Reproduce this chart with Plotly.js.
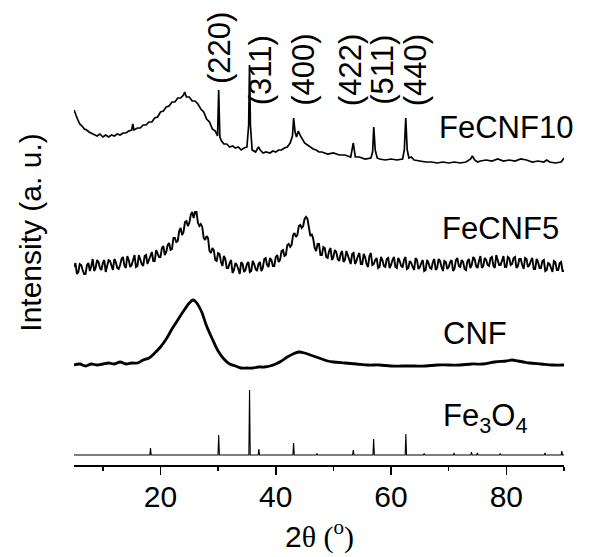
<!DOCTYPE html>
<html>
<head>
<meta charset="utf-8">
<script src="https://cdn.plot.ly/plotly-3.0.1.min.js"></script>
<style>html,body{margin:0;padding:0;background:#fff;}#chart{width:590px;height:557px;}</style>
</head>
<body>
<div id="chart"></div>
<script>
// ---- FeCNF10 (offset trace, top) ----
const fecnf10X = [5.0,5.3,5.6,6.0,6.4,6.8,7.2,7.6,8.0,8.5,9.0,9.5,10.0,10.5,11.0,11.5,12.0,12.5,13.0,13.5,14.0,14.5,15.0,15.2,15.4,16.0,16.5,17.0,17.5,18.0,18.5,19.0,19.5,20.0,20.5,21.0,21.5,22.0,22.5,23.0,23.5,24.0,24.2,24.5,25.0,25.5,26.0,26.5,27.0,27.5,28.0,28.5,29.0,29.5,29.9,30.1,30.3,30.6,31.0,31.5,32.0,32.5,33.0,33.5,34.0,34.5,35.0,35.3,35.45,35.6,35.9,36.5,37.0,37.3,37.8,38.3,39.0,39.5,40.0,40.5,41.0,41.5,42.0,42.5,42.9,43.1,43.35,43.6,43.9,44.3,44.7,45.0,45.5,46.0,46.5,47.0,47.5,48.0,49.0,50.0,51.0,52.0,53.0,53.45,53.8,54.5,55.5,56.5,56.8,57.0,57.25,57.6,58.0,59.0,60.0,61.0,62.0,62.3,62.55,62.8,63.1,63.5,64.0,65.0,66.0,67.0,68.0,69.0,70.0,71.0,72.0,73.0,73.8,74.1,74.5,75.0,75.5,76.5,77.5,78.5,79.5,80.5,81.5,82.5,83.5,84.5,85.5,86.5,87.0,87.5,88.5,89.5,90.0];
const fecnf10Y = [355,350,346,341,339,336,335,333,332,330,329,331,328,330,328,330,329,331,330,332,332,334,335,341,335,337,337,340,340,343,343,347,348,353,354,358,359,363,363,367,367,370,373,368,368,364,364,361,356,353,346,343,336,334,329,375,328,324,321,321,318,319,317,318,315,317,318,340,400,340,315,313,318,315,312,313,312,314,313,315,315,317,318,322,329,347,333,328,334,329,325,322,320,318,316,315,313,313,311,312,310,310,308,322,308,308,306,307,313,338,315,307,306,305,306,305,306,315,347,315,307,308,305,304,303,303,302,303,302,303,302,303,306,309,305,303,304,305,304,306,304,305,304,306,305,303,304,303,305,303,302,303,307];

// ---- FeCNF5 (scan points, two interleaved sets) ----
const fecnf5Xa = [5.0,5.5,6.0,6.5,7.0,7.5,8.0,8.5,9.0,9.5,10.0,10.5,11.0,11.5,12.0,12.5,13.0,13.5,14.0,14.5,15.0,15.5,16.0,16.5,17.0,17.5,18.0,18.5,19.0,19.5,20.0,20.5,21.0,21.5,22.0,22.5,23.0,23.5,24.0,24.5,25.0,25.5,26.0,26.5,27.0,27.5,28.0,28.5,29.0,29.5,30.0,30.5,31.0,31.5,32.0,32.5,33.0,33.5,34.0,34.5,35.0,35.5,36.0,36.5,37.0,37.5,38.0,38.5,39.0,39.5,40.0,40.5,41.0,41.5,42.0,42.5,43.0,43.5,44.0,44.5,45.0,45.5,46.0,46.5,47.0,47.5,48.0,48.5,49.0,49.5,50.0,50.5,51.0,51.5,52.0,52.5,53.0,53.5,54.0,54.5,55.0,55.5,56.0,56.5,57.0,57.5,58.0,58.5,59.0,59.5,60.0,60.5,61.0,61.5,62.0,62.5,63.0,63.5,64.0,64.5,65.0,65.5,66.0,66.5,67.0,67.5,68.0,68.5,69.0,69.5,70.0,70.5,71.0,71.5,72.0,72.5,73.0,73.5,74.0,74.5,75.0,75.5,76.0,76.5,77.0,77.5,78.0,78.5,79.0,79.5,80.0,80.5,81.0,81.5,82.0,82.5,83.0,83.5,84.0,84.5,85.0,85.5,86.0,86.5,87.0,87.5,88.0,88.5,89.0,89.5,90.0];
const fecnf5Ya = [198,191,201,195,191,202,199,194,205,197,202,193,205,200,206,197,200,208,197,205,200,210,199,205,199,210,205,213,204,212,208,219,213,222,216,227,224,237,233,244,242,253,253,242,241,227,229,214,217,205,212,203,209,197,202,192,202,196,203,193,201,193,204,196,201,194,206,200,207,199,208,203,214,209,220,218,230,228,239,237,246,246,229,226,214,221,210,217,207,217,208,213,204,214,205,209,201,212,204,212,201,208,198,212,201,207,198,205,198,207,200,208,197,204,198,208,197,202,195,205,198,205,195,202,196,206,197,204,194,203,198,205,196,207,198,203,195,206,200,206,197,209,199,205,199,208,197,205,200,209,198,207,201,208,199,206,196,206,200,207,196,203,197,205,195,201,193,203,195,203,194];
const fecnf5Xb = [5.25,5.75,6.25,6.75,7.25,7.75,8.25,8.75,9.25,9.75,10.25,10.75,11.25,11.75,12.25,12.75,13.25,13.75,14.25,14.75,15.25,15.75,16.25,16.75,17.25,17.75,18.25,18.75,19.25,19.75,20.25,20.75,21.25,21.75,22.25,22.75,23.25,23.75,24.25,24.75,25.25,25.75,26.25,26.75,27.25,27.75,28.25,28.75,29.25,29.75,30.25,30.75,31.25,31.75,32.25,32.75,33.25,33.75,34.25,34.75,35.25,35.75,36.25,36.75,37.25,37.75,38.25,38.75,39.25,39.75,40.25,40.75,41.25,41.75,42.25,42.75,43.25,43.75,44.25,44.75,45.25,45.75,46.25,46.75,47.25,47.75,48.25,48.75,49.25,49.75,50.25,50.75,51.25,51.75,52.25,52.75,53.25,53.75,54.25,54.75,55.25,55.75,56.25,56.75,57.25,57.75,58.25,58.75,59.25,59.75,60.25,60.75,61.25,61.75,62.25,62.75,63.25,63.75,64.25,64.75,65.25,65.75,66.25,66.75,67.25,67.75,68.25,68.75,69.25,69.75,70.25,70.75,71.25,71.75,72.25,72.75,73.25,73.75,74.25,74.75,75.25,75.75,76.25,76.75,77.25,77.75,78.25,78.75,79.25,79.75,80.25,80.75,81.25,81.75,82.25,82.75,83.25,83.75,84.25,84.75,85.25,85.75,86.25,86.75,87.25,87.75,88.25,88.75,89.25,89.75];
const fecnf5Yb = [202,193,200,191,200,194,206,197,203,195,205,198,204,195,203,196,206,199,209,198,205,198,210,201,209,201,210,204,215,208,217,210,220,215,227,223,234,230,243,239,250,247,253,239,238,225,227,212,215,204,211,199,206,197,205,195,200,191,201,195,203,194,201,194,203,197,207,198,205,199,210,205,215,210,221,220,232,230,240,239,248,235,231,217,221,210,218,208,214,205,215,206,211,203,214,205,211,201,209,201,211,201,209,200,205,197,208,199,206,197,205,198,207,199,205,196,204,198,207,196,202,194,205,197,203,195,206,198,204,196,203,194,205,199,205,196,204,197,208,199,204,197,207,200,207,199,210,200,206,198,208,200,207,197,206,200,207,198,204,196,206,197,204,194,202,197,204,195,202,194];

// ---- CNF ----
const cnfX = [5,6,7,8,9,10,11,12,13,14,15,16,17,18,19,20,21,22,23,24,25,25.6,26,27,28,29,30,31,32,33,34,35,36,37,38,39,40,41,42,43,44,45,46,47,48,49,50,52,54,56,58,60,62,64,66,68,70,72,74,76,78,80,81,82,83,84,86,88,90];
const cnfY = [100,101,99,101,100,101,102,101,103,101,102,102,105,107,112,118,126,136,145,154,162,165,164,155,139,126,114,106,101,99,97,97,97,98,98,99,101,104,108,111,113,112,110,108,106,104,103,102,101,100,100,99,99,99,99,100,100,100,101,101,103,104,105,104,103,102,101,100,100];

// ---- Fe3O4 reference pattern (stick lines) ----
const fe3o4Base = 10;
const fe3o4Pos = [18.27,30.10,35.45,37.07,43.09,47.14,53.45,56.98,62.57,65.74,70.92,73.95,74.96,78.93,86.70,89.62];
const fe3o4Int = [7,20,65,6,12,1.5,5,16,21,1.5,2,3,2,1.5,2,4];

// ---- labels ----
const hklLabels = ['(220)','(311)','(400)','(422)','(511)','(440)'];
const hklX = [30.15,37.3,44.7,52.9,58.4,64.2];
const hklY = [417,395,395,395,395,395];
const sampleLabels = ['FeCNF10','FeCNF5','CNF','Fe<sub>3</sub>O<sub>4</sub>'];
const sampleX = [79.9,79.0,74.5,76.3];
const sampleY = [338,237,132,47];
const xTitle = '2<span style="font-family:\'Liberation Serif\'">θ (<sup>o</sup>)</span>';
const yTitle = 'Intensity (a. u.)';

// merge the two FeCNF5 scan sets in x order
const f5 = fecnf5Xa.map((x,i)=>[x,fecnf5Ya[i]]).concat(fecnf5Xb.map((x,i)=>[x,fecnf5Yb[i]])).sort((a,b)=>a[0]-b[0]);
const fecnf5X = f5.map(p=>p[0]), fecnf5Y = f5.map(p=>p[1]);

// build stick trace
const stickX = [5], stickY = [fe3o4Base];
fe3o4Pos.forEach((p,i)=>{
  stickX.push(p-0.12, p, p+0.12);
  stickY.push(fe3o4Base, fe3o4Base+fe3o4Int[i], fe3o4Base);
});
stickX.push(90); stickY.push(fe3o4Base);

const FONT = 'Liberation Sans, Arial, sans-serif';
const traces = [
  {x:fecnf10X, y:fecnf10Y, mode:'lines', line:{color:'#000', width:1.7}, hoverinfo:'skip'},
  {x:fecnf5X, y:fecnf5Y, mode:'lines', line:{color:'#000', width:1.9}, hoverinfo:'skip'},
  {x:cnfX, y:cnfY, mode:'lines', line:{color:'#000', width:2.8, shape:'spline'}, hoverinfo:'skip'},
  {x:stickX, y:stickY, mode:'lines', line:{color:'#000', width:1.1}, hoverinfo:'skip'}
];

const annotations = [];
hklLabels.forEach((t,i)=>annotations.push({x:hklX[i], y:hklY[i], xref:'x', yref:'y', text:t, textangle:-90, showarrow:false, xanchor:'center', yanchor:'middle', font:{family:FONT, size:31, color:'#000'}}));
sampleLabels.forEach((t,i)=>annotations.push({x:sampleX[i], y:sampleY[i], xref:'x', yref:'y', text:t, showarrow:false, xanchor:'center', yanchor:'middle', font:{family:FONT, size:31, color:'#000'}}));
annotations.push({x:0.5, y:-0.15, xref:'paper', yref:'paper', text:xTitle, showarrow:false, xanchor:'center', yanchor:'middle', font:{family:FONT, size:30, color:'#000'}});

const layout = {
  width:590, height:557,
  margin:{l:74, r:26, t:0, b:92},
  paper_bgcolor:'#fff', plot_bgcolor:'#fff',
  showlegend:false,
  font:{family:FONT, color:'#000'},
  xaxis:{
    range:[5,90], showgrid:false, zeroline:false,
    showline:true, linecolor:'#000', linewidth:1.5,
    ticks:'outside', ticklen:8, tickwidth:1.5, tickcolor:'#000',
    tick0:0, dtick:20, ticklabelstandoff:-4,
    minor:{ticks:'outside', ticklen:4, tickwidth:1.5, tickcolor:'#000', dtick:10, tick0:0},
    tickfont:{family:FONT, size:30, color:'#000'}
  },
  yaxis:{
    range:[0,465], showgrid:false, zeroline:false, showline:false,
    showticklabels:false, ticks:'',
    title:{text:yTitle, font:{family:FONT, size:30, color:'#000'}, standoff:22}
  },
  annotations:annotations
};
Plotly.newPlot('chart', traces, layout, {displayModeBar:false, staticPlot:true});
</script>
</body>
</html>
